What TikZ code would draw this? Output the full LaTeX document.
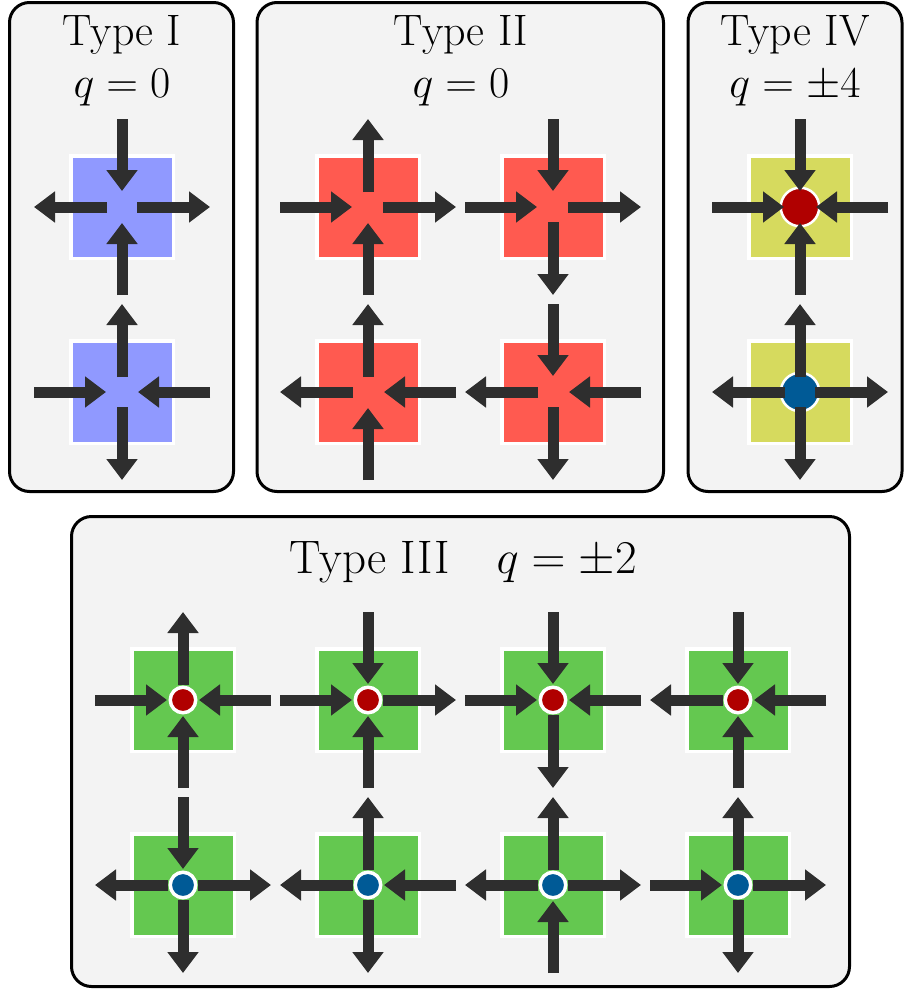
\RequirePackage{fix-cm}
\documentclass[tikz,border=0pt]{standalone}
\usetikzlibrary{arrows.meta}
\definecolor{panelbg}{RGB}{243,243,243}
\definecolor{bluesq}{RGB}{144,153,255}
\definecolor{redsq}{RGB}{255,90,80}
\definecolor{yellowsq}{RGB}{214,218,94}
\definecolor{greensq}{RGB}{100,200,80}
\definecolor{arrowc}{RGB}{46,46,46}
\definecolor{reddot}{RGB}{176,0,0}
\definecolor{bluedot}{RGB}{0,90,150}
\tikzset{
  panel/.style={draw=black, line width=3pt, fill=panelbg, rounded corners=20pt},
  sq/.style={draw=white, line width=3.5pt, minimum size=102.5pt, inner sep=0pt, outer sep=0pt},
  arr/.style={draw=arrowc, line width=11pt, -{Triangle[width=30pt,length=21pt]}},
  bigdot/.style={circle, draw=white, line width=2.5pt, minimum size=38.5pt, inner sep=0pt},
  smalldot/.style={circle, draw=white, line width=3.5pt, minimum size=25.5pt, inner sep=0pt},
  title/.style={font=\fontsize{44}{52}\selectfont, anchor=base, inner sep=0pt},
  bigtitle/.style={font=\fontsize{47}{54}\selectfont, anchor=base, inner sep=0pt}
}
\newcommand\ain[4]{\draw[arr] ({#1+88*(#3)},{#2+88*(#4)}) -- ({#1+16*(#3)},{#2+16*(#4)});}
\newcommand\aout[4]{\draw[arr] ({#1+15*(#3)},{#2+15*(#4)}) -- ({#1+88*(#3)},{#2+88*(#4)});}
% arguments: x, y, top, right, bottom, left
\newcommand\cellarrows[6]{#3{#1}{#2}{0}{-1}#4{#1}{#2}{1}{0}#5{#1}{#2}{0}{1}#6{#1}{#2}{-1}{0}}
\begin{document}
\begin{tikzpicture}[x=1pt,y=-1pt]
\useasboundingbox (0,0) rectangle (904,991);
\fill[white] (0,0) rectangle (904,991);
% panels
\draw[panel] (9.5,2.5) rectangle (233.5,491.5);
\draw[panel] (257,2.5) rectangle (663.5,491.5);
\draw[panel] (688,2.5) rectangle (902,491.5);
\draw[panel] (71.5,516.5) rectangle (849.5,986.5);
% titles
\node[title] (t1) at (122,45) {Type I};
\node[title] (q1) at (122,97) {$q=0$};
\node[title] (t2) at (461,45) {Type II};
\node[title] (q2) at (461,97) {$q=0$};
\node[title] (t4) at (795,45) {Type IV};
\node[title] (q4) at (795,97) {$q=\pm4$};
\node[bigtitle] (t3) at (463,573) {Type III\quad$q=\pm2$};
% Type I
\node[sq,fill=bluesq] (I1) at (122,207) {};
\node[sq,fill=bluesq] (I2) at (122,392) {};
\cellarrows{122}{207}{\ain}{\aout}{\ain}{\aout}
\cellarrows{122}{392}{\aout}{\ain}{\aout}{\ain}
% Type II
\node[sq,fill=redsq] (II1) at (368,207) {};
\node[sq,fill=redsq] (II2) at (553,207) {};
\node[sq,fill=redsq] (II3) at (368,392) {};
\node[sq,fill=redsq] (II4) at (553,392) {};
\cellarrows{368}{207}{\aout}{\aout}{\ain}{\ain}
\cellarrows{553}{207}{\ain}{\aout}{\aout}{\ain}
\cellarrows{368}{392}{\aout}{\ain}{\ain}{\aout}
\cellarrows{553}{392}{\ain}{\ain}{\aout}{\aout}
% Type IV
\node[sq,fill=yellowsq] (IV1) at (800,207) {};
\node[sq,fill=yellowsq] (IV2) at (800,392) {};
\node[bigdot,fill=reddot] (d41) at (800,207) {};
\node[bigdot,fill=bluedot] (d42) at (800,392) {};
\cellarrows{800}{207}{\ain}{\ain}{\ain}{\ain}
\cellarrows{800}{392}{\aout}{\aout}{\aout}{\aout}
% Type III
\foreach \cx [count=\i] in {183,368,553,738}{
  \node[sq,fill=greensq] (IIIa\i) at (\cx,700) {};
  \node[sq,fill=greensq] (IIIb\i) at (\cx,885) {};
  \node[smalldot,fill=reddot] (da\i) at (\cx,700) {};
  \node[smalldot,fill=bluedot] (db\i) at (\cx,885) {};
}
\cellarrows{183}{700}{\aout}{\ain}{\ain}{\ain}
\cellarrows{368}{700}{\ain}{\aout}{\ain}{\ain}
\cellarrows{553}{700}{\ain}{\ain}{\aout}{\ain}
\cellarrows{738}{700}{\ain}{\ain}{\ain}{\aout}
\cellarrows{183}{885}{\ain}{\aout}{\aout}{\aout}
\cellarrows{368}{885}{\aout}{\ain}{\aout}{\aout}
\cellarrows{553}{885}{\aout}{\aout}{\ain}{\aout}
\cellarrows{738}{885}{\aout}{\aout}{\aout}{\ain}
\end{tikzpicture}
\end{document}
